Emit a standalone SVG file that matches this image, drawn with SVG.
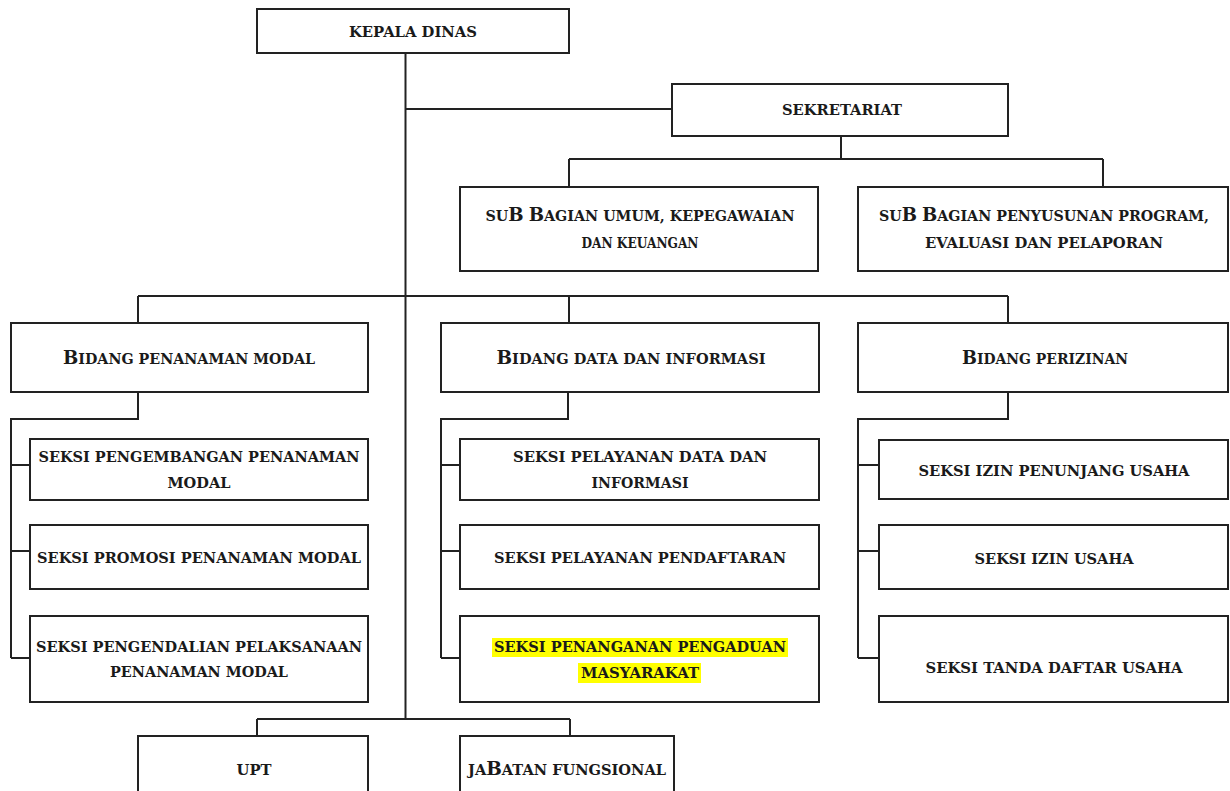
<svg xmlns="http://www.w3.org/2000/svg" width="1230" height="791" viewBox="0 0 1230 791">
<style>
.box{fill:#fff;stroke:#222;stroke-width:2}
.ln{fill:none;stroke:#222;stroke-width:2}
.t{font-family:"DejaVu Serif","Liberation Serif",serif;font-weight:bold;font-size:15px;fill:#1a1a1a;text-anchor:middle}
.bb{font-size:19px}
.hl{fill:#ffff00}
</style>
<rect width="1230" height="791" fill="#fff"/>
<g id="connectors">
<path class="ln" d="M405.5 53V719M405.5 109H672M841 136V159M569 159H1103M569 159V187M1103 159V187"/>
<path class="ln" d="M138 296H1008M138 296V323M569 296V323M1008 296V323"/>
<path class="ln" d="M138 392V419H11V658M11 465H30M11 551H30M11 658H30"/>
<path class="ln" d="M568 392V419H441V658M441 465H460M441 551H460M441 658H460"/>
<path class="ln" d="M1008 392V419H858V658M858 465H879M858 551H879M858 658H879"/>
<path class="ln" d="M257 719H570M257 719V736M570 719V736"/>
</g>
<g id="kepala-dinas"><rect class="box" x="257" y="9" width="312" height="44"/><text class="t" x="413" y="37" textLength="128" lengthAdjust="spacingAndGlyphs">KEPALA DINAS</text></g>
<g id="sekretariat"><rect class="box" x="672" y="84" width="336" height="52"/><text class="t" x="842" y="115" textLength="120" lengthAdjust="spacingAndGlyphs">SEKRETARIAT</text></g>
<g id="sub-umum"><rect class="box" x="460" y="187" width="358" height="84"/>
<text class="t" x="640" y="221" textLength="309" lengthAdjust="spacingAndGlyphs">SU<tspan class="bb">B</tspan> <tspan class="bb">B</tspan>AGIAN UMUM, KEPEGAWAIAN</text>
<text class="t" x="640" y="248" textLength="117" lengthAdjust="spacingAndGlyphs">DAN KEUANGAN</text></g>
<g id="sub-program"><rect class="box" x="858" y="187" width="370" height="84"/>
<text class="t" x="1044" y="221" textLength="330" lengthAdjust="spacingAndGlyphs">SU<tspan class="bb">B</tspan> <tspan class="bb">B</tspan>AGIAN PENYUSUNAN PROGRAM,</text>
<text class="t" x="1044" y="248" textLength="238" lengthAdjust="spacingAndGlyphs">EVALUASI DAN PELAPORAN</text></g>
<g id="bidang-penanaman"><rect class="box" x="11" y="323" width="357" height="69"/><text class="t" x="189" y="364" textLength="252" lengthAdjust="spacingAndGlyphs"><tspan class="bb">B</tspan>IDANG PENANAMAN MODAL</text></g>
<g id="bidang-data"><rect class="box" x="441" y="323" width="378" height="69"/><text class="t" x="631" y="364" textLength="269" lengthAdjust="spacingAndGlyphs"><tspan class="bb">B</tspan>IDANG DATA DAN INFORMASI</text></g>
<g id="bidang-perizinan"><rect class="box" x="858" y="323" width="370" height="69"/><text class="t" x="1045" y="364" textLength="166" lengthAdjust="spacingAndGlyphs"><tspan class="bb">B</tspan>IDANG PERIZINAN</text></g>
<g id="seksi-pengembangan"><rect class="box" x="30" y="439" width="338" height="61"/>
<text class="t" x="199" y="462" textLength="321" lengthAdjust="spacingAndGlyphs">SEKSI PENGEMBANGAN PENANAMAN</text>
<text class="t" x="199" y="488" textLength="63" lengthAdjust="spacingAndGlyphs">MODAL</text></g>
<g id="seksi-promosi"><rect class="box" x="30" y="525" width="338" height="64"/><text class="t" x="199" y="563" textLength="324" lengthAdjust="spacingAndGlyphs">SEKSI PROMOSI PENANAMAN MODAL</text></g>
<g id="seksi-pengendalian"><rect class="box" x="30" y="616" width="338" height="86"/>
<text class="t" x="199" y="652" textLength="326" lengthAdjust="spacingAndGlyphs">SEKSI PENGENDALIAN PELAKSANAAN</text>
<text class="t" x="199" y="677" textLength="178" lengthAdjust="spacingAndGlyphs">PENANAMAN MODAL</text></g>
<g id="seksi-pelayanan-data"><rect class="box" x="460" y="439" width="359" height="61"/>
<text class="t" x="640" y="462" textLength="254" lengthAdjust="spacingAndGlyphs">SEKSI PELAYANAN DATA DAN</text>
<text class="t" x="640" y="488" textLength="97" lengthAdjust="spacingAndGlyphs">INFORMASI</text></g>
<g id="seksi-pendaftaran"><rect class="box" x="460" y="525" width="359" height="64"/><text class="t" x="640" y="563" textLength="292" lengthAdjust="spacingAndGlyphs">SEKSI PELAYANAN PENDAFTARAN</text></g>
<g id="seksi-pengaduan"><rect class="box" x="460" y="616" width="359" height="86"/>
<rect class="hl" x="492" y="638" width="296" height="19"/>
<rect class="hl" x="578" y="663" width="123" height="20"/>
<text class="t" x="640" y="652" textLength="292" lengthAdjust="spacingAndGlyphs">SEKSI PENANGANAN PENGADUAN</text>
<text class="t" x="640" y="678" textLength="118" lengthAdjust="spacingAndGlyphs">MASYARAKAT</text></g>
<g id="seksi-izin-penunjang"><rect class="box" x="879" y="440" width="349" height="59"/><text class="t" x="1054" y="476" textLength="271" lengthAdjust="spacingAndGlyphs">SEKSI IZIN PENUNJANG USAHA</text></g>
<g id="seksi-izin-usaha"><rect class="box" x="879" y="525" width="349" height="64"/><text class="t" x="1054" y="564" textLength="159" lengthAdjust="spacingAndGlyphs">SEKSI IZIN USAHA</text></g>
<g id="seksi-tanda-daftar"><rect class="box" x="879" y="616" width="349" height="86"/><text class="t" x="1054" y="673" textLength="257" lengthAdjust="spacingAndGlyphs">SEKSI TANDA DAFTAR USAHA</text></g>
<g id="upt"><rect class="box" x="138" y="736" width="230" height="80"/><text class="t" x="254" y="775" textLength="35" lengthAdjust="spacingAndGlyphs">UPT</text></g>
<g id="jabatan-fungsional"><rect class="box" x="460" y="736" width="214" height="80"/><text class="t" x="567" y="775" textLength="198" lengthAdjust="spacingAndGlyphs">JA<tspan class="bb">B</tspan>ATAN FUNGSIONAL</text></g>
</svg>
